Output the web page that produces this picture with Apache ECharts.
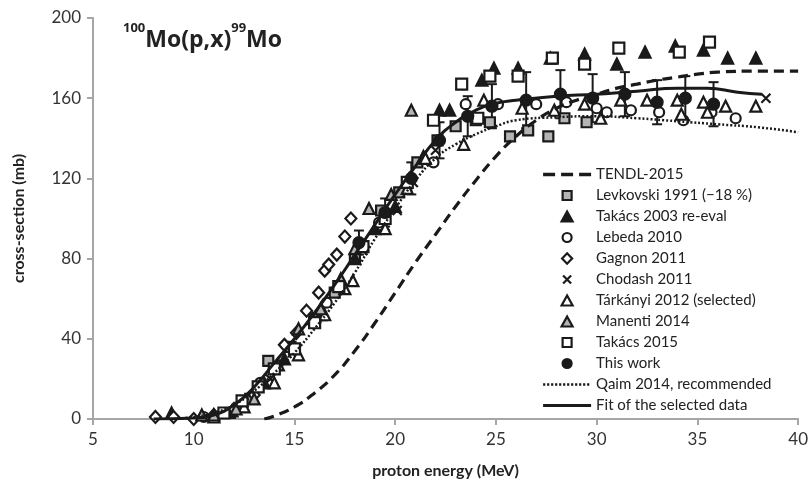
<!DOCTYPE html>
<html><head><meta charset="utf-8">
<script src="https://cdn.jsdelivr.net/npm/echarts@6/dist/echarts.min.js"></script>
<style>html,body{margin:0;padding:0;background:#fff}#c{width:811px;height:491px}</style>
</head><body><div id="c"></div>
<script>
// ---- data (energy MeV, cross-section mb) ----
const tendl = [[13.5,0],[14,1.5],[15,6],[16,13],[17,22],[18,34],[19,48],[20,63],[21,78],[22,92],[23,106],[24,119],[25,131],[26,141],[27,149],[28,155],[29,159],[30,162],[31,165],[32,167],[33,169],[34,170.5],[35,172],[36,173],[38,173.5],[40,173.5]];
const levkovski = [[11.8,3],[12.8,10],[13.7,29],[14.8,36],[16.0,50],[17.0,63],[18.0,80],[19.3,104],[20.2,113],[21.1,128],[22.1,139],[23.0,146],[24.0,149],[24.7,148],[25.7,141],[26.6,144],[27.6,141],[28.4,150],[29.5,148]];
const takacs2003 = [[8.9,3],[11.9,4],[13.5,18],[14.5,30],[16.3,52],[18.0,80],[19.0,95],[20.0,106],[20.7,120],[21.4,131],[22.2,154],[22.7,154],[24.3,169],[24.9,175],[26.1,175],[27.7,180],[29.4,182],[31.0,177],[32.4,183],[33.9,186],[35.3,184],[36.5,180],[37.9,180]];
const lebeda = [[10.5,1],[13.3,18],[16.6,58],[19.2,98],[21.9,128],[23.5,157],[25.1,157],[27.0,157],[28.5,158],[30.0,155],[30.5,153],[31.7,154],[33.1,153],[34.3,149],[35.7,153],[36.9,150]];
const gagnon = [[8.1,1],[9.0,1],[10.0,0],[11.0,2],[12.0,5],[13.0,12],[14.0,25],[14.5,37],[15.1,43],[15.6,54],[16.2,63],[16.5,74],[16.7,77],[17.1,82],[17.5,91],[17.8,100]];
const chodash = [[12.5,8],[13.8,20],[14.9,33],[16.1,50],[17.2,66],[18.4,84],[19.5,96],[20.1,104],[20.9,118],[22.0,134],[38.4,160]];
const tarkanyi = [[11.0,1],[12.5,6],[14.0,18],[15.2,32],[16.5,52],[17.5,65],[17.9,69],[19.5,95],[20.6,115],[21.5,130],[23.4,137],[24.4,159],[26.3,155],[27.9,154],[29.4,157],[30.2,150],[31.2,159],[32.5,159],[34.0,159],[34.2,152],[35.3,158],[35.5,153],[36.4,156],[37.9,156]];
const manenti = [[10.4,2],[11.0,2],[12.1,5],[13.0,10],[14.2,27],[15.2,45],[15.9,50],[16.3,55],[17.3,70],[18.0,85],[18.7,105],[19.8,112],[20.8,154]];
const takacs2015 = [[11.5,3],[12.4,9],[13.2,16],[14.0,25],[15.0,35],[16.0,48],[17.2,66],[18.4,86],[19.5,100],[20.6,118],[21.9,149],[23.3,167],[24.1,150],[24.7,171],[26.1,171],[27.8,180],[29.4,177],[31.1,185],[34.1,183],[35.6,188]];
const thisWork = [[18.2,88],[19.5,103],[20.8,120],[22.2,139],[23.6,151],[24.8,156],[26.5,159],[28.2,162],[29.8,160],[31.4,162],[33.0,158],[34.4,160],[35.8,157]];
const thisWorkErr = [6,7,8,9,10,11,14,12,12,11,11,11,11];
const qaim = [[9,0],[10,1],[11,3],[12,7],[13,14],[14,23],[15,33],[16,45],[17,58],[18,73],[19,90],[20,105],[21,119],[22,130],[23,137],[24,142],[25,146],[26,149],[28,150.5],[30,151],[32,150],[34,148.5],[36,147],[38,145.5],[40,143]];
const fit = [[8,0],[10,0.5],[11,2],[12,7],[13,16],[14,28],[15,40],[16,53],[17,67],[18,82],[19,97],[20,112],[21,126],[22,139],[23,148],[24,154],[25,157.5],[26,159],[28,161],[30,162],[32,163.5],[34,165],[35.5,165],[37,163],[38.2,162]];
const xTicks = [5,10,15,20,25,30,35,40];
const yTicks = [0,40,80,120,160,200];
const legendNames = ['TENDL-2015','Levkovski 1991 (\u221218 %)','Takács 2003 re-eval','Lebeda 2010','Gagnon 2011','Chodash 2011','Tárkányi 2012 (selected)','Manenti 2014','Takács 2015','This work','Qaim 2014, recommended','Fit of the selected data'];

const FONT = 'Lato, "Open Sans", sans-serif';
const K = '#1a1a1a', G = '#b4b4b4';
// legend icon paths (48x12 box; first two moves fix the box)
const BOX = 'path://M0,0M48,12';
let dots = ''; for (let i = 0; i < 48; i += 4) dots += 'M' + i + ',4.8h2.2v2.4h-2.2z';
const icons = {
  dash: BOX + 'M0,4.3h12v3.4h-12zM18,4.3h12v3.4h-12zM36,4.3h12v3.4h-12z',
  dot: BOX + dots,
  solid: BOX + 'M0,4.5h48v3h-48z',
  square: BOX + 'M19.5,1.5h9v9h-9z',
  tri: BOX + 'M24,1L29.5,11L18.5,11Z',
  circle: BOX + 'M19.5,6a4.5,4.5 0 1,0 9,0a4.5,4.5 0 1,0 -9,0Z',
  diamond: BOX + 'M24,0.8L29,6L24,11.2L19,6Z',
  cross: BOX + 'M20,2L28,10M28,2L20,10'
};
const legendIcon = [icons.dash, icons.square, icons.tri, icons.circle, icons.diamond, icons.cross, icons.tri, icons.tri, icons.square, icons.circle, icons.dot, icons.solid];
const isLineItem = [true,false,false,false,false,false,false,false,false,false,true,true];

function sc(name, data, symbol, size, fill){
  return {name, type:'scatter', data, symbol, symbolSize:size, z:3,
    itemStyle:{color:fill, borderColor:K, borderWidth:2.2, opacity:1}};
}
function ln(name, data, width, type, z){
  return {name, type:'line', data, smooth:true, symbol:'none', z,
    itemStyle:{color:K}, lineStyle:{color:K, width, type}};
}
const chart = echarts.init(document.getElementById('c'));
chart.setOption({
  animation:false,
  grid:{left:93,right:9,top:18,bottom:72},
  xAxis:{type:'value',min:xTicks[0],max:xTicks[xTicks.length-1],interval:5,
    name:'proton energy (MeV)',nameLocation:'middle',nameGap:44,
    nameTextStyle:{fontFamily:FONT,fontWeight:'bold',fontSize:16,color:'#222'},
    axisLine:{onZero:false,lineStyle:{color:'#a6a6a6',width:2}},
    axisTick:{show:true,length:6,lineStyle:{color:'#a6a6a6',width:2}},
    axisLabel:{margin:12,fontFamily:FONT,fontSize:17,color:'#333'},
    splitLine:{show:false}},
  yAxis:{type:'value',min:yTicks[0],max:yTicks[yTicks.length-1],interval:40,
    name:'cross-section (mb)',nameLocation:'middle',nameGap:66,nameRotate:90,
    nameTextStyle:{fontFamily:FONT,fontWeight:'bold',fontSize:16,color:'#222'},
    axisLine:{show:true,lineStyle:{color:'#a6a6a6',width:2}},
    axisTick:{show:true,length:6,lineStyle:{color:'#a6a6a6',width:2}},
    axisLabel:{margin:12,fontFamily:FONT,fontSize:17,color:'#333'},
    splitLine:{show:false}},
  legend:{orient:'vertical',left:537,top:162,itemWidth:48,itemHeight:12,itemGap:6,
    symbolKeepAspect:true,
    textStyle:{fontFamily:FONT,fontSize:15,color:'#222'},
    data:legendNames.map((n,i)=>isLineItem[i] ? {name:n, icon:legendIcon[i]}
      : {name:n, icon:legendIcon[i], itemStyle:{borderColor:K, borderWidth:2.2}})},
  graphic:[{type:'text',left:123,top:22,z:10,style:{
    text:'{s|100}{m|Mo(p,x)}{s|99}{m|Mo}',
    rich:{s:{fontFamily:'"Open Sans", Lato, sans-serif',fontWeight:'bold',fontSize:13,fill:'#222',verticalAlign:'top',lineHeight:30},
          m:{fontFamily:'"Open Sans", Lato, sans-serif',fontWeight:'bold',fontSize:23,fill:'#222',verticalAlign:'bottom',lineHeight:30}}}}],
  series:[
    ln(legendNames[0],tendl,3.2,[10,6],4),
    sc(legendNames[1],levkovski,'rect',10,G),
    sc(legendNames[2],takacs2003,'triangle',11,K),
    sc(legendNames[3],lebeda,'circle',10,'#fff'),
    sc(legendNames[4],gagnon,'diamond',[11,12],'#fff'),
    sc(legendNames[5],chodash,'path://M0,0L10,10M10,0L0,10',9,K),
    sc(legendNames[6],tarkanyi,'triangle',11,'#fff'),
    sc(legendNames[7],manenti,'triangle',11,G),
    sc(legendNames[8],takacs2015,'rect',11,'#fff'),
    {name:'errbars',type:'custom',z:3,data:thisWork.map((p,i)=>[p[0],p[1],thisWorkErr[i]]),
      renderItem:function(params,api){
        const x=api.value(0),y=api.value(1),e=api.value(2);
        const top=api.coord([x,y+e]), bot=api.coord([x,y-e]);
        const st={stroke:K,lineWidth:2};
        return {type:'group',children:[
          {type:'line',shape:{x1:top[0],y1:top[1],x2:bot[0],y2:bot[1]},style:st},
          {type:'line',shape:{x1:top[0]-5,y1:top[1],x2:top[0]+5,y2:top[1]},style:st},
          {type:'line',shape:{x1:bot[0]-5,y1:bot[1],x2:bot[0]+5,y2:bot[1]},style:st}]};
      }},
    sc(legendNames[9],thisWork,'circle',11,K),
    ln(legendNames[10],qaim,2.5,[2,2],4),
    ln(legendNames[11],fit,3,'solid',5)
  ]
});
</script></body></html>
